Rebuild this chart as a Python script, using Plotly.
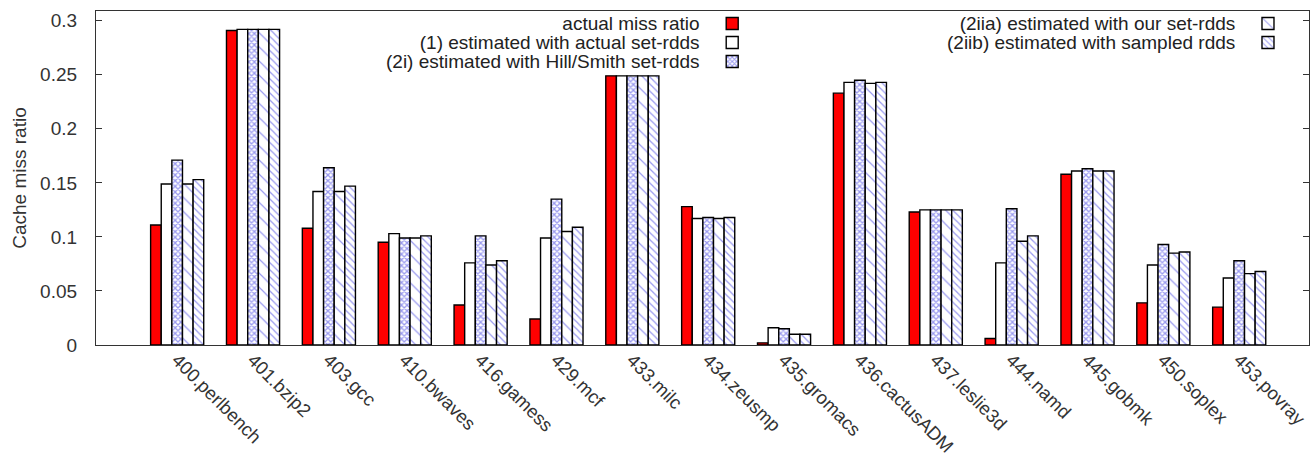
import plotly.graph_objects as go

categories = ["400.perlbench", "401.bzip2", "403.gcc", "410.bwaves", "416.gamess",
              "429.mcf", "433.milc", "434.zeusmp", "435.gromacs", "436.cactusADM",
              "437.leslie3d", "444.namd", "445.gobmk", "450.soplex", "453.povray"]

actual_miss = [0.111, 0.291, 0.108, 0.095, 0.037, 0.024, 0.249, 0.128, 0.002, 0.233,
               0.123, 0.006, 0.158, 0.039, 0.035]
est_actual_setrdd = [0.149, 0.292, 0.142, 0.103, 0.076, 0.099, 0.249, 0.117, 0.016, 0.243,
                     0.125, 0.076, 0.161, 0.074, 0.062]
est_hill_smith = [0.171, 0.292, 0.164, 0.099, 0.101, 0.135, 0.249, 0.118, 0.015, 0.245,
                  0.125, 0.126, 0.163, 0.093, 0.078]
est_our_setrdd = [0.149, 0.292, 0.142, 0.099, 0.074, 0.105, 0.249, 0.117, 0.010, 0.242,
                  0.125, 0.096, 0.161, 0.085, 0.066]
est_sampled = [0.153, 0.292, 0.147, 0.101, 0.078, 0.109, 0.249, 0.118, 0.010, 0.243,
               0.125, 0.101, 0.161, 0.086, 0.068]

series_names = ["actual miss ratio",
                "(1) estimated with actual set-rdds",
                "(2i) estimated with Hill/Smith set-rdds",
                "(2iia) estimated with our set-rdds",
                "(2iib) estimated with sampled rdds"]

ytick_vals = [0, 0.05, 0.1, 0.15, 0.2, 0.25, 0.3]
ytick_text = ["0", "0.05", "0.1", "0.15", "0.2", "0.25", "0.3"]

FONT = "Liberation Sans, Arial, sans-serif"
FS = 19
XFS = 18.5
BLUE = "#3434e0"

styles = [
    dict(color="#ff0000"),
    dict(color="#ffffff"),
    dict(color="#ffffff", pattern=dict(shape="x", fgcolor=BLUE, bgcolor="#ffffff",
                                       size=4, solidity=0.55, fillmode="overlay")),
    dict(color="#ffffff", pattern=dict(shape="\\", fgcolor=BLUE, bgcolor="#ffffff",
                                       size=10, solidity=0.12, fillmode="overlay")),
    dict(color="#ffffff", pattern=dict(shape="\\", fgcolor=BLUE, bgcolor="#ffffff",
                                       size=5, solidity=0.25, fillmode="overlay")),
]
legend_ids = ["legend", "legend", "legend", "legend2", "legend2"]
all_values = [actual_miss, est_actual_setrdd, est_hill_smith, est_our_setrdd, est_sampled]

fig = go.Figure()
for name, vals, st, lg in zip(series_names, all_values, styles, legend_ids):
    marker = dict(line=dict(color="#000000", width=1.4))
    marker.update(st)
    fig.add_trace(go.Bar(x=categories, y=vals, name="", marker=marker,
                         legend=lg, hovertext=name))

# legend labels: right-aligned text block to the left of the swatches (gnuplot style)
LINE_FS = 19 / 1.3  # annotation font size that gives 19px line spacing


def label_block(names):
    return "<br>".join('<span style="font-size:%dpx">%s</span>' % (FS, n) for n in names)


fig.add_annotation(text=label_block(series_names[:3]), xref="paper", yref="paper",
                   x=0.4996, y=0.907, xanchor="right", yanchor="middle", align="right",
                   showarrow=False, font=dict(family=FONT, size=LINE_FS, color="#222222"))
fig.add_annotation(text=label_block(series_names[3:]), xref="paper", yref="paper",
                   x=0.9407, y=0.9356, xanchor="right", yanchor="middle", align="right",
                   showarrow=False, font=dict(family=FONT, size=LINE_FS, color="#222222"))

legend_common = dict(bgcolor="rgba(0,0,0,0)", borderwidth=0, xanchor="left", yanchor="top",
                     font=dict(family=FONT, size=12), itemclick=False, itemdoubleclick=False)

fig.update_layout(
    width=1315, height=457,
    margin=dict(l=96, r=6, t=11, b=112),
    paper_bgcolor="white", plot_bgcolor="white",
    font=dict(family=FONT, size=FS, color="#222222"),
    barmode="group", bargap=0.30, bargroupgap=0.0,
    legend=dict(x=0.508, y=1.006, **legend_common),
    legend2=dict(x=0.9497, y=1.006, **legend_common),
    xaxis=dict(range=[-1.07, 14.92], tickangle=45, showline=True, mirror=True,
               linecolor="#333333", linewidth=1.2, ticks="", showgrid=False,
               automargin=False, ticklabelstandoff=-4,
               tickfont=dict(family=FONT, size=XFS, color="#333333")),
    yaxis=dict(range=[0, 0.309], tickvals=ytick_vals, ticktext=ytick_text,
               showline=True, mirror="ticks", linecolor="#333333", linewidth=1.2,
               ticks="inside", ticklen=6, tickcolor="#333333", showgrid=False,
               zeroline=False, ticklabelstandoff=14, automargin=False,
               tickfont=dict(family=FONT, size=FS, color="#333333"),
               title=dict(text="Cache miss ratio", standoff=8,
                          font=dict(family=FONT, size=FS, color="#333333"))),
)

fig.write_html("out.html")
